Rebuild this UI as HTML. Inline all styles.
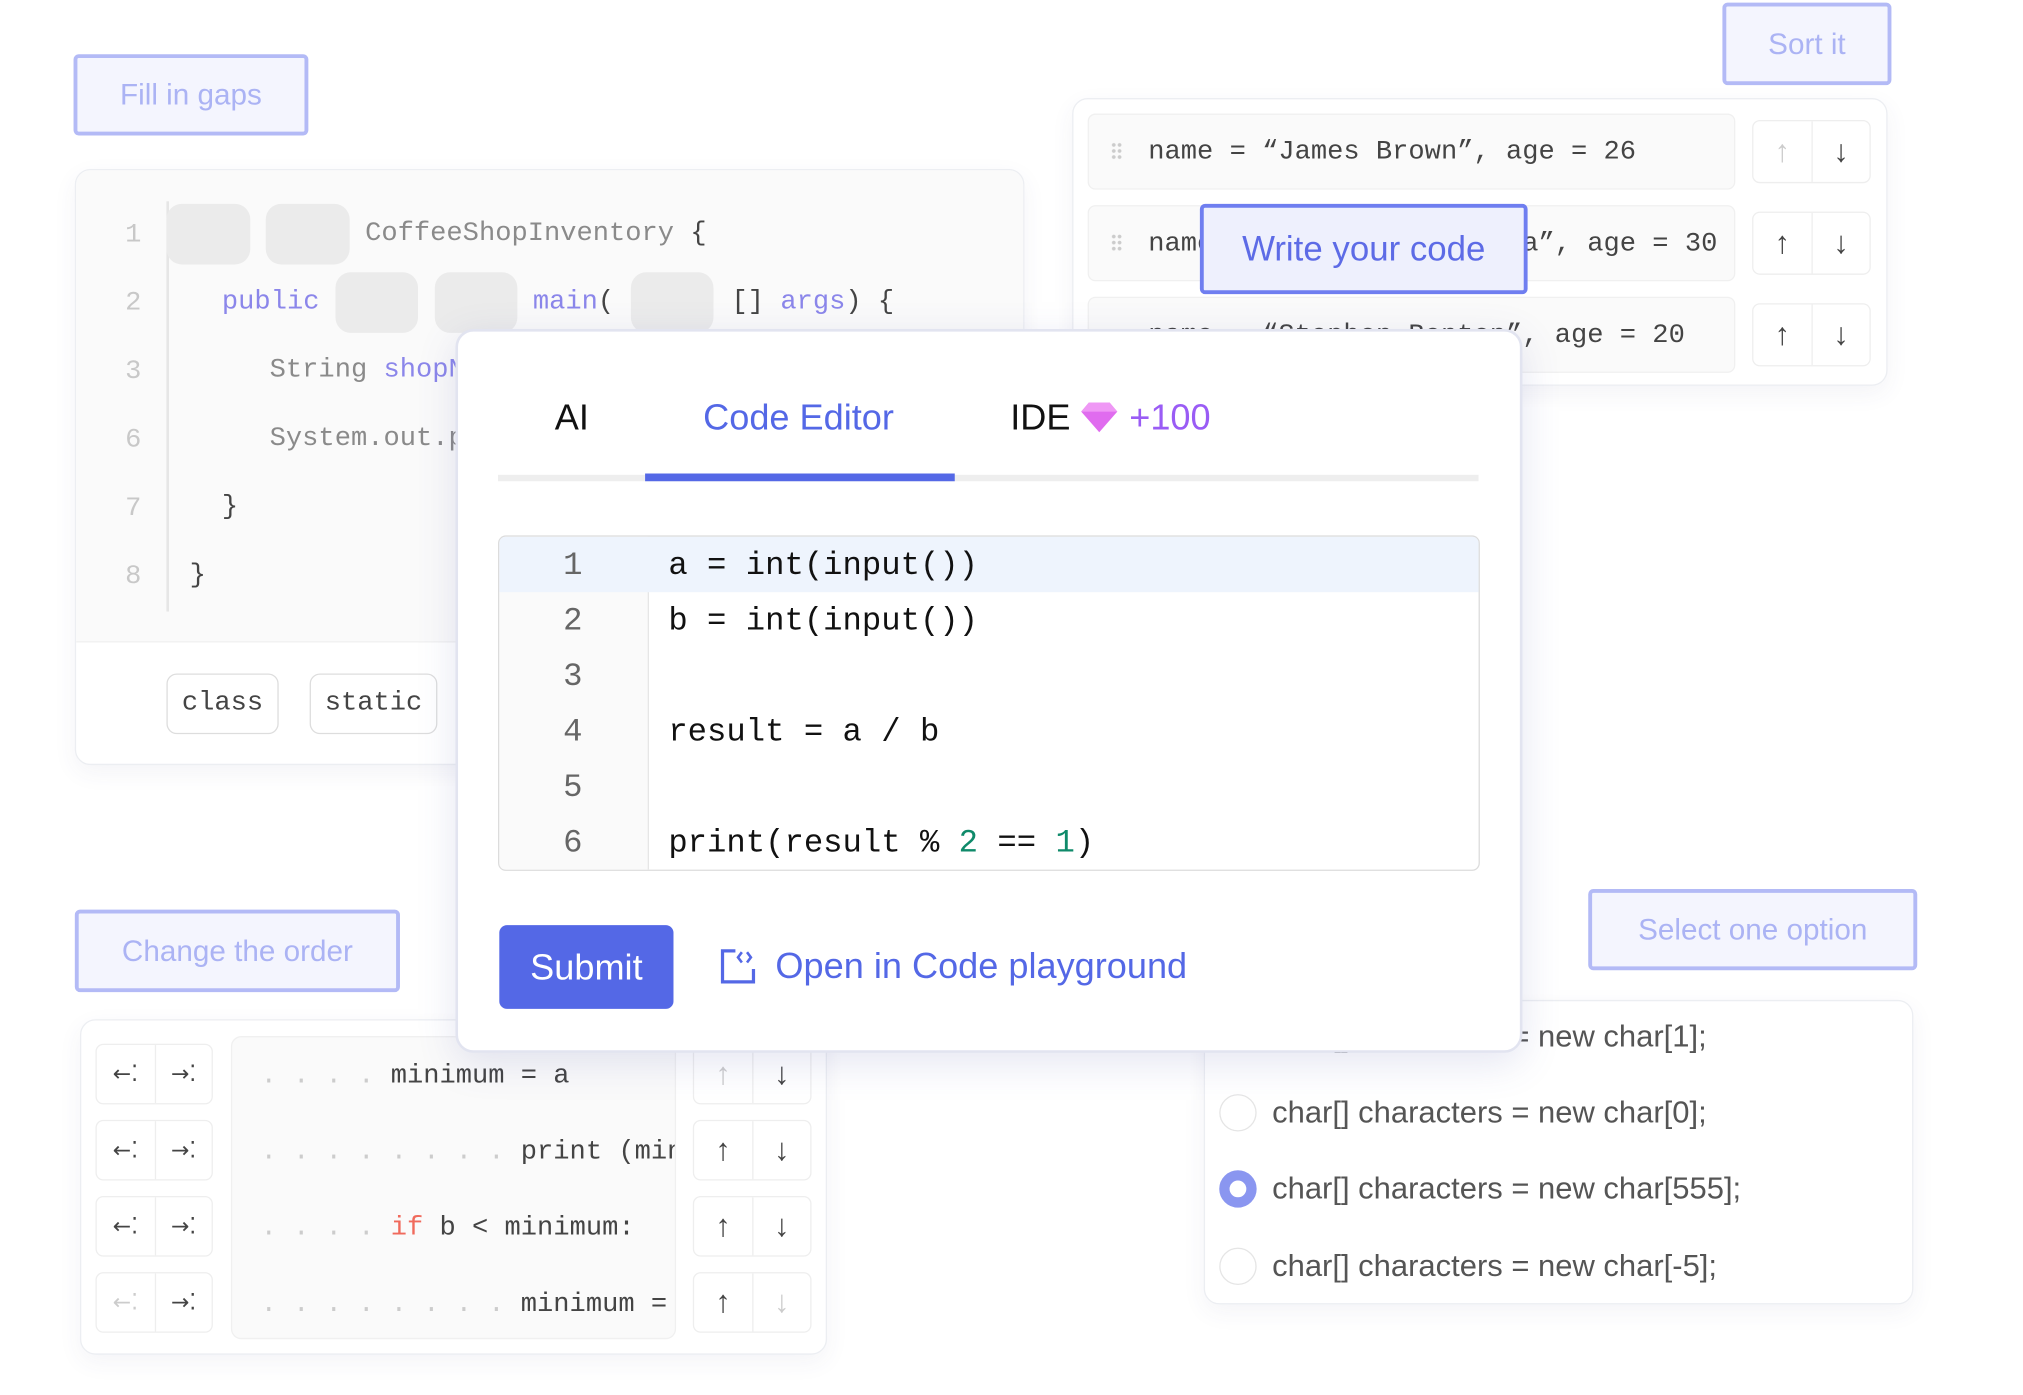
<!DOCTYPE html>
<html><head><meta charset="utf-8"><style>
*{box-sizing:border-box;margin:0;padding:0}
html,body{width:2023px;height:1394px;overflow:hidden;background:#fff}
#w{position:absolute;left:0;top:0;width:1568px;height:1081px;transform:scale(1.2902);transform-origin:0 0;font-family:"Liberation Sans",sans-serif}
.a{position:absolute}
.lbl{position:absolute;background:#f4f5fe;border:3px solid #b3baf6;border-radius:4px;color:#abb3f4;font-size:23px;display:flex;align-items:center;justify-content:center}
.card{position:absolute;background:#fff;border:1.5px solid #eceef2;border-radius:12px;box-shadow:0 6px 18px rgba(60,70,120,.06)}
.m{font-family:"Liberation Mono",monospace;white-space:pre}
.blank{position:absolute;background:#ebebeb;border-radius:12px}
.row{position:absolute;background:#fafafa;border:1.5px solid #f0f0f0;border-radius:6px}
.arw{position:absolute;border:1.5px solid #eeeeee;border-radius:6px;background:#fff}
.arw span{position:absolute;top:0;bottom:0;width:50%;display:flex;align-items:center;justify-content:center;font-size:24px;color:#444}
.arw span.r{left:50%;border-left:1.5px solid #eee}
.arw span.l{left:0}
.dots{position:absolute;width:9px;height:14px;background:radial-gradient(circle,#ccc 1.3px,transparent 1.6px) 0 0/4.5px 4.7px}
.ind{position:absolute;border:1.5px solid #eee;border-radius:6px;background:#fff}
.ind span{position:absolute;top:0;bottom:0;width:50%;display:flex;align-items:center;justify-content:center;font-size:17px;color:#444;font-family:"DejaVu Sans",sans-serif}
.ind span.r{left:50%;border-left:1.5px solid #eee}
.radio{position:absolute;width:29px;height:29px;border-radius:50%;border:1.5px solid #e5e5e5;background:#fff}
.opt{position:absolute;font-size:24px;color:#555}
</style></head><body><div id="w">

<!-- Fill in gaps -->
<div class="lbl" style="left:57px;top:42px;width:182px;height:63px">Fill in gaps</div>
<div class="card" style="left:58px;top:131px;width:736px;height:462px;overflow:hidden">
  <div class="a" style="left:0;top:0;width:736px;height:366px;background:#fafafa;border-bottom:1.5px solid #f0f0f0"></div>
  <div class="a" style="left:70px;top:24px;width:1.5px;height:318px;background:#e6e6e6"></div>
</div>
<div class="a m" style="left:97px;top:156px;font-size:21px;color:#c8c8c8;line-height:53px">1
2
3
6
7
8</div>
<div class="blank" style="left:129px;top:158px;width:65px;height:47px"></div>
<div class="blank" style="left:206px;top:158px;width:65px;height:47px"></div>
<div class="blank" style="left:260px;top:211px;width:64px;height:47px"></div>
<div class="blank" style="left:337px;top:211px;width:64px;height:47px"></div>
<div class="blank" style="left:489px;top:211px;width:64px;height:47px"></div>
<div class="a m" style="left:283px;top:170px;font-size:21px;color:#8a8a8a">CoffeeShopInventory <span style="color:#444">{</span></div>
<div class="a m" style="left:172px;top:223px;font-size:21px;color:#8b86ea">public</div>
<div class="a m" style="left:413px;top:223px;font-size:21px;color:#8b86ea">main<span style="color:#444">(</span></div>
<div class="a m" style="left:567px;top:223px;font-size:21px;color:#444">[] <span style="color:#8b86ea">args</span>) {</div>
<div class="a m" style="left:209px;top:276px;font-size:21px;color:#8a8a8a">String <span style="color:#8b86ea">shopName</span></div>
<div class="a m" style="left:209px;top:329px;font-size:21px;color:#8a8a8a">System.out.print</div>
<div class="a m" style="left:172px;top:382px;font-size:21px;color:#444">}</div>
<div class="a m" style="left:147px;top:435px;font-size:21px;color:#444">}</div>
<div class="a m" style="left:129px;top:522px;width:87px;height:47px;border:1.5px solid #ddd;border-radius:8px;font-size:21px;color:#444;display:flex;align-items:center;justify-content:center">class</div>
<div class="a m" style="left:240px;top:522px;width:99px;height:47px;border:1.5px solid #ddd;border-radius:8px;font-size:21px;color:#444;display:flex;align-items:center;justify-content:center">static</div>

<!-- Sort it -->
<div class="lbl" style="left:1335px;top:2px;width:131px;height:64px">Sort it</div>
<div class="card" style="left:831px;top:76px;width:632px;height:223px"></div>
<div class="row" style="left:843px;top:88px;width:502px;height:59px"></div>
<div class="row" style="left:843px;top:159px;width:502px;height:59px"></div>
<div class="row" style="left:843px;top:230px;width:502px;height:59px"></div>
<div class="dots" style="left:861px;top:110px"></div>
<div class="dots" style="left:861px;top:181px"></div>
<div class="a m" style="left:890px;top:107px;font-size:21px;color:#444">name = “James Brown”, age = 26</div>
<div class="a m" style="left:890px;top:178px;font-size:21px;color:#444">name = “Anastasia Garcia”, age = 30</div>
<div class="a m" style="left:890px;top:249px;font-size:21px;color:#444">name = “Stephen Benton”, age = 20</div>
<div class="arw" style="left:1358px;top:93px;width:92px;height:49px"><span class="l" style="color:#ccc">↑</span><span class="r">↓</span></div>
<div class="arw" style="left:1358px;top:164px;width:92px;height:49px"><span class="l">↑</span><span class="r">↓</span></div>
<div class="arw" style="left:1358px;top:235px;width:92px;height:49px"><span class="l">↑</span><span class="r">↓</span></div>

<!-- Change the order -->
<div class="lbl" style="left:58px;top:705px;width:252px;height:64px">Change the order</div>
<div class="card" style="left:62px;top:790px;width:579px;height:260px"></div>
<div class="a" style="left:179px;top:803px;width:345px;height:235px;background:#fafafa;border:1.5px solid #f0f0f0;border-radius:8px"></div>
<div class="ind" style="left:74px;top:809px;width:91px;height:47px"><span class="l">←⁚</span><span class="r">→⁚</span></div>
<div class="ind" style="left:74px;top:868px;width:91px;height:47px"><span class="l">←⁚</span><span class="r">→⁚</span></div>
<div class="ind" style="left:74px;top:927px;width:91px;height:47px"><span class="l">←⁚</span><span class="r">→⁚</span></div>
<div class="ind" style="left:74px;top:986px;width:91px;height:47px"><span class="l" style="color:#ccc">←⁚</span><span class="r">→⁚</span></div>
<div class="a" style="left:180px;top:804px;width:343px;height:232px;overflow:hidden">
<div class="a m" style="left:22px;top:1px;font-size:21px;color:#444;line-height:59px"><span style="color:#ccc">. . . . </span>minimum = a
<span style="color:#ccc">. . . . . . . . </span>print (minimum)
<span style="color:#ccc">. . . . </span><span style="color:#f06a5c">if</span> b &lt; minimum:
<span style="color:#ccc">. . . . . . . . </span>minimum = b</div></div>
<div class="arw" style="left:537px;top:809px;width:92px;height:47px"><span class="l" style="color:#ccc">↑</span><span class="r">↓</span></div>
<div class="arw" style="left:537px;top:868px;width:92px;height:47px"><span class="l">↑</span><span class="r">↓</span></div>
<div class="arw" style="left:537px;top:927px;width:92px;height:47px"><span class="l">↑</span><span class="r">↓</span></div>
<div class="arw" style="left:537px;top:986px;width:92px;height:47px"><span class="l">↑</span><span class="r" style="color:#ccc">↓</span></div>

<!-- Select one option -->
<div class="lbl" style="left:1231px;top:689px;width:255px;height:63px">Select one option</div>
<div class="card" style="left:933px;top:775px;width:550px;height:236px"></div>
<div class="opt" style="left:986px;top:790px">char[] characters = new char[1];</div>
<div class="radio" style="left:945px;top:848px"></div>
<div class="opt" style="left:986px;top:849px">char[] characters = new char[0];</div>
<div class="radio" style="left:945px;top:907px;border:8px solid #8a96f0"></div>
<div class="opt" style="left:986px;top:908px">char[] characters = new char[555];</div>
<div class="radio" style="left:945px;top:967px"></div>
<div class="opt" style="left:986px;top:968px">char[] characters = new char[-5];</div>

<!-- Modal -->
<div class="a" style="left:353px;top:255px;width:827px;height:561px;background:#fff;border:2px solid #e2e4f0;border-radius:14px;box-shadow:0 8px 30px rgba(80,90,170,.15)"></div>
<div class="a" style="left:430px;top:308px;font-size:28px;color:#111">AI</div>
<div class="a" style="left:545px;top:308px;font-size:28px;color:#5468e6">Code Editor</div>
<div class="a" style="left:783px;top:308px;font-size:28px;color:#111">IDE <svg width="30" height="26" viewBox="0 0 30 26" style="vertical-align:-3px"><polygon points="7,2 23,2 29,9 15,25 1,9" fill="#e06cef"/><polygon points="7,2 23,2 29,9 1,9" fill="#ef98f5"/></svg> <span style="color:#9a5cf5">+100</span></div>
<div class="a" style="left:386px;top:368px;width:760px;height:5px;background:#eeeeee"></div>
<div class="a" style="left:500px;top:367px;width:240px;height:6px;background:#5468e6"></div>
<div class="a" style="left:386px;top:415px;width:761px;height:260px;border:1.5px solid #dcdcdc;border-radius:6px;overflow:hidden">
  <div class="a" style="left:0;top:0;width:116px;height:260px;background:#fafafa;border-right:1.5px solid #e6e6e6"></div>
  <div class="a" style="left:0;top:0;width:761px;height:43px;background:#eef4fd"></div>
  <div class="a m" style="left:0;top:1px;width:114px;text-align:center;font-size:25px;line-height:43px;color:#666">1
2
3
4
5
6</div>
  <div class="a m" style="left:131px;top:1px;font-size:25px;line-height:43px;color:#111">a = int(input())
b = int(input())

result = a / b

print(result % <span style="color:#0f8a6a">2</span> == <span style="color:#0f8a6a">1</span>)</div>
</div>
<div class="a" style="left:387px;top:717px;width:135px;height:65px;background:#5468e6;border-radius:6px;color:#fff;font-size:28px;display:flex;align-items:center;justify-content:center">Submit</div>
<svg class="a" style="left:558px;top:735px" width="28" height="28" viewBox="0 0 28 28"><path d="M12 2 H2 V26 H26 V16" fill="none" stroke="#5468e6" stroke-width="2.5"/><path d="M17 3 L14 7 L17 11 M21 3 L24 7 L21 11" fill="none" stroke="#5468e6" stroke-width="2"/></svg>
<div class="a" style="left:601px;top:733px;font-size:28px;color:#5468e6">Open in Code playground</div>

<!-- Write your code -->
<div class="lbl" style="left:930px;top:158px;width:254px;height:70px;background:#eef0fd;border-color:#6f7ef0;color:#5d6be6;font-size:27px">Write your code</div>

</div></body></html>
